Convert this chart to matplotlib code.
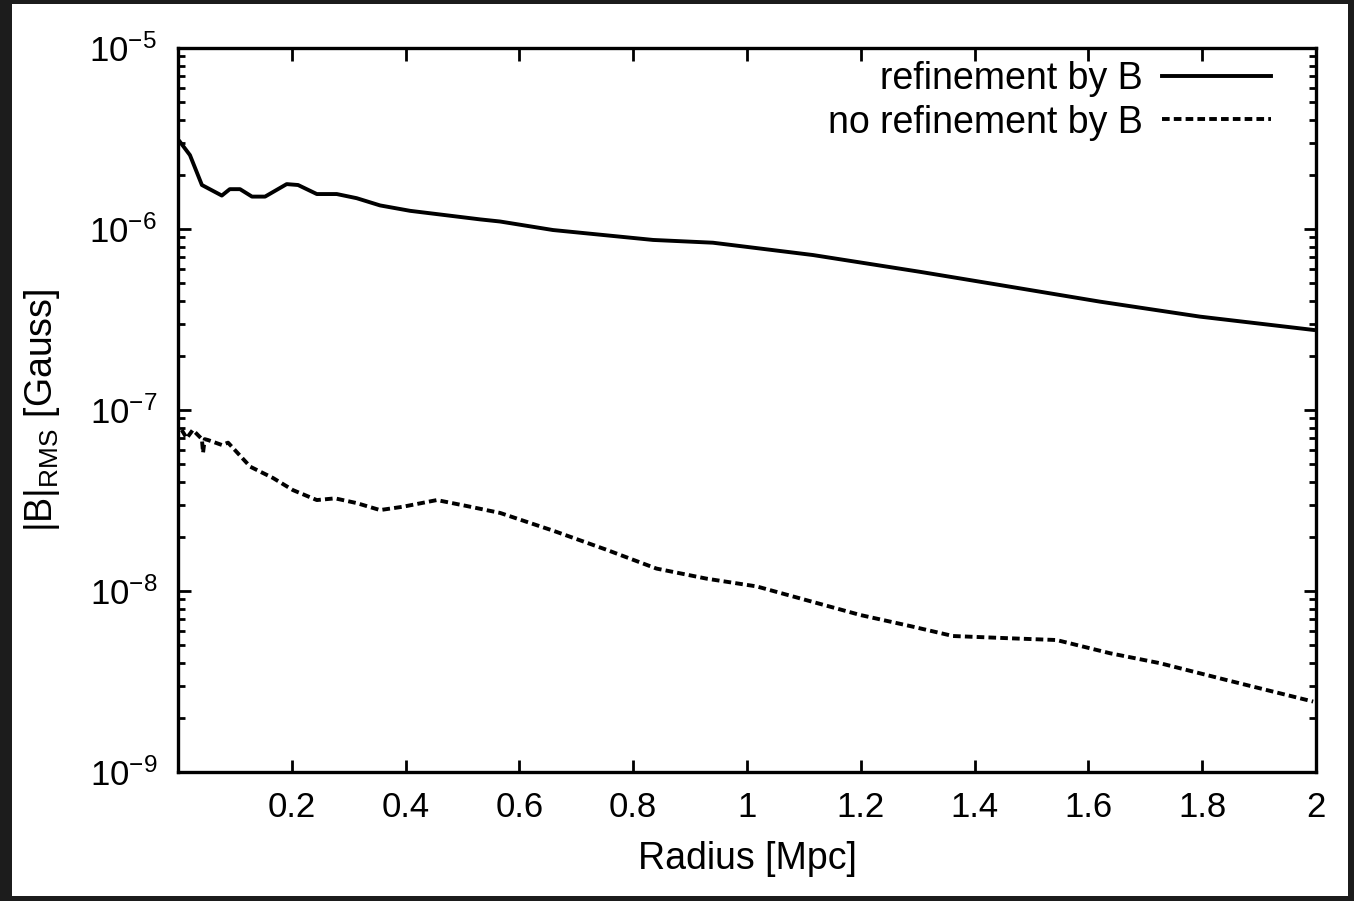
import numpy as np
import matplotlib
matplotlib.use('Agg')
import matplotlib.pyplot as plt
from matplotlib.patches import Rectangle
from matplotlib.ticker import LogLocator, FixedLocator, NullFormatter

plt.rcParams['font.family'] = ['Liberation Sans', 'DejaVu Sans']
plt.rcParams['mathtext.fontset'] = 'custom'
plt.rcParams['mathtext.rm'] = 'Liberation Sans'
plt.rcParams['mathtext.it'] = 'Liberation Sans:italic'
plt.rcParams['mathtext.bf'] = 'Liberation Sans:bold'
plt.rcParams['lines.scale_dashes'] = False

# RMS field profile with B-based refinement
r_ref = [0.0035, 0.021, 0.042, 0.077, 0.091, 0.109, 0.130, 0.153, 0.191, 0.211,
         0.244, 0.279, 0.314, 0.355, 0.408, 0.531, 0.566, 0.659, 0.835, 0.940,
         1.116, 1.304, 1.445, 1.620, 1.796, 1.995]
b_ref = [3.03e-6, 2.56e-6, 1.75e-6, 1.53e-6, 1.66e-6, 1.66e-6, 1.51e-6, 1.51e-6, 1.77e-6, 1.75e-6,
         1.56e-6, 1.56e-6, 1.48e-6, 1.35e-6, 1.26e-6, 1.13e-6, 1.10e-6, 9.87e-7, 8.7e-7, 8.4e-7,
         7.18e-7, 5.8e-7, 4.9e-7, 3.97e-7, 3.28e-7, 2.77e-7]

# RMS field profile without B-based refinement
r_noref = [0.0065, 0.0153, 0.026, 0.042, 0.044, 0.047, 0.053, 0.077, 0.088, 0.127,
           0.167, 0.202, 0.244, 0.276, 0.314, 0.355, 0.395, 0.455, 0.507, 0.566,
           0.660, 0.753, 0.841, 0.929, 1.017, 1.199, 1.286, 1.362, 1.462, 1.544,
           1.638, 1.726, 1.843, 1.995]
b_noref = [7.76e-8, 6.98e-8, 7.76e-8, 6.91e-8, 5.8e-8, 6.9e-8, 6.82e-8, 6.41e-8, 6.6e-8, 4.86e-8,
           4.21e-8, 3.61e-8, 3.18e-8, 3.25e-8, 3.06e-8, 2.80e-8, 2.92e-8, 3.18e-8, 2.95e-8, 2.70e-8,
           2.15e-8, 1.69e-8, 1.33e-8, 1.17e-8, 1.06e-8, 7.37e-9, 6.41e-9, 5.64e-9, 5.48e-9, 5.36e-9,
           4.53e-9, 3.99e-9, 3.22e-9, 2.45e-9]

x_ticks = [0.2, 0.4, 0.6, 0.8, 1.0, 1.2, 1.4, 1.6, 1.8, 2.0]

fig = plt.figure(figsize=(13.54, 9.01), dpi=100, facecolor='#1c1c1c')
# white page inside the dark surround
fig.patches.append(Rectangle((12 / 1354, 1 - 896 / 901), (1348 - 12) / 1354, (896 - 4) / 901,
                             transform=fig.transFigure, facecolor='white', edgecolor='none', zorder=-10))

ax = fig.add_axes([178 / 1354, 1 - 772 / 901, (1316 - 178) / 1354, (772 - 48) / 901])

ax.plot(r_ref, b_ref, color='black', lw=2.8, solid_joinstyle='round', label='refinement by B')
ax.plot(r_noref, b_noref, color='black', lw=2.8, dashes=(5.5, 3.0), label='no refinement by B')

ax.set_yscale('log')
ax.set_xlim(0, 2)
ax.set_ylim(1e-9, 1e-5)

ax.xaxis.set_major_locator(FixedLocator(x_ticks))
ax.set_xticklabels(['%g' % t for t in x_ticks])
ax.yaxis.set_major_locator(LogLocator(base=10, numticks=10))
ax.yaxis.set_minor_locator(LogLocator(base=10, subs=np.arange(2, 10), numticks=20))
ax.yaxis.set_minor_formatter(NullFormatter())

ax.tick_params(which='both', direction='in', top=True, right=True, width=2.0, color='black')
ax.tick_params(which='major', length=9)
ax.tick_params(which='minor', length=5)
ax.tick_params(axis='x', labelsize=25, pad=14)
ax.tick_params(axis='y', labelsize=25, pad=15)

for s in ax.spines.values():
    s.set_linewidth(2.4)

ax.set_xlabel('Radius [Mpc]', fontsize=27)
ax.xaxis.set_label_coords(0.5, -0.095)
ax.set_ylabel(r'$\mathrm{|B|_{RMS}}$ [Gauss]', fontsize=27)
ax.yaxis.set_label_coords(-0.102, 0.5)

ax.legend(loc='upper right', frameon=False, fontsize=27, markerfirst=False,
          handlelength=2.9, handletextpad=0.5, labelspacing=0.2,
          borderaxespad=0.2, bbox_to_anchor=(0.98, 1.013))

fig.savefig('out.png', dpi=100, facecolor=fig.get_facecolor())
